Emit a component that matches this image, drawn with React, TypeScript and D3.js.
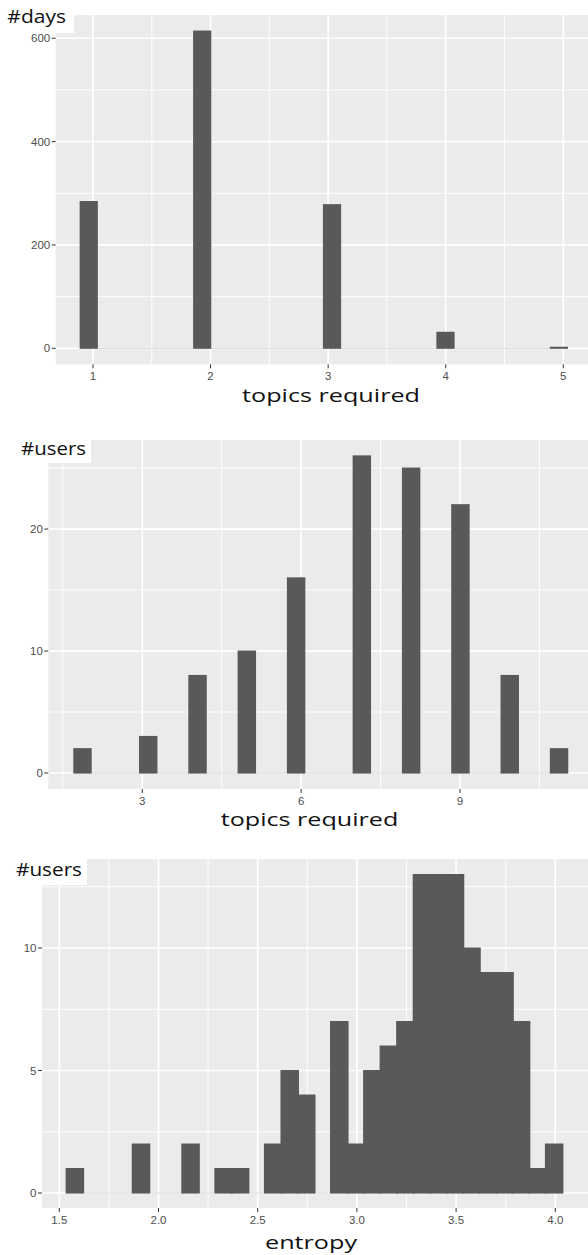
import React, { useEffect, useRef } from 'react';
import * as d3 from 'd3';

// top panel: topics required per day
const dayTopics = [1, 2, 3, 4, 5];
const dayCounts = [284, 614, 278, 31, 2];
const dayBinCenters = [0.964, 1.929, 3.033, 3.998, 4.963];
const dayBinWidth = 0.1379;
const dayXTicks = [1, 2, 3, 4, 5];
const dayYTicks = [0, 200, 400, 600];

// middle panel: topics required per user
const userTopics = [2, 3, 4, 5, 6, 7, 8, 9, 10, 11];
const userCounts = [2, 3, 8, 10, 16, 26, 25, 22, 8, 2];
const userBinCenters = [1.871, 3.112, 4.043, 4.974, 5.905, 7.146, 8.077, 9.008, 9.939, 10.87];
const userBinWidth = 0.3103;
const userXTicks = [3, 6, 9];
const userYTicks = [0, 10, 20];

// bottom panel: entropy per user (30 bins)
const entropyFirstBin = 1.5785;
const entropyBinWidth = 0.0833;
const entropyCounts = [
  1, 0, 0, 0, 2, 0, 0, 2, 0, 1,
  1, 0, 2, 5, 4, 0, 7, 2, 5, 6,
  7, 13, 13, 13, 10, 9, 9, 7, 1, 2,
];
const entropyXTicks = [1.5, 2.0, 2.5, 3.0, 3.5, 4.0];
const entropyYTicks = [0, 5, 10];

interface Bin {
  center: number;
  count: number;
}

interface PanelSpec {
  bins: Bin[];
  binWidth: number;
  xDomain: [number, number];
  yDomain: [number, number];
  xTicks: number[];
  yTicks: number[];
  xFormat: (d: number) => string;
  left: number;
  right: number;
  top: number;
  bottom: number;
  yLabel: string;
  yLabelX: number;
  yLabelY: number;
  yLabelLen: number;
  boxW: number;
  boxBottom: number;
  xTitle: string;
  xTitleX: number;
  xTitleY: number;
  xTitleLen: number;
}

const W = 588;
const H = 1255;
const BG = '#EBEBEB';
const BAR = '#595959';
const TICK_FONT = '"Liberation Sans", Arial, sans-serif';
const TITLE_FONT = '"Open Sans", "Noto Sans", sans-serif';

const minorOf = (major: number[], domain: [number, number]) => {
  const step = major[1] - major[0];
  const out: number[] = [];
  for (let v = major[0] - step / 2 - step * 3; v <= domain[1]; v += step) {
    if (v >= domain[0]) out.push(v);
  }
  return out;
};

const panels: PanelSpec[] = [
  {
    bins: dayTopics.map((_, i) => ({ center: dayBinCenters[i], count: dayCounts[i] })),
    binWidth: dayBinWidth,
    xDomain: [0.683, 5.21],
    yDomain: [-31, 645],
    xTicks: dayXTicks,
    yTicks: dayYTicks,
    xFormat: (d) => String(d),
    left: 55.7, right: W, top: 15, bottom: 364.3,
    yLabel: '#days', yLabelX: 7.3, yLabelY: 23, yLabelLen: 58.7,
    boxW: 74, boxBottom: 33,
    xTitle: 'topics required', xTitleX: 331, xTitleY: 402, xTitleLen: 178,
  },
  {
    bins: userTopics.map((_, i) => ({ center: userBinCenters[i], count: userCounts[i] })),
    binWidth: userBinWidth,
    xDomain: [1.225, 11.417],
    yDomain: [-1.31, 27.3],
    xTicks: userXTicks,
    yTicks: userYTicks,
    xFormat: (d) => String(d),
    left: 48.3, right: W, top: 440, bottom: 789,
    yLabel: '#users', yLabelX: 21, yLabelY: 455, yLabelLen: 65,
    boxW: 91, boxBottom: 463,
    xTitle: 'topics required', xTitleX: 309.5, xTitleY: 825.5, xTitleLen: 177.6,
  },
  {
    bins: entropyCounts.map((c, k) => ({ center: entropyFirstBin + k * entropyBinWidth, count: c })),
    binWidth: entropyBinWidth,
    xDomain: [1.4128, 4.1648],
    yDomain: [-0.612, 13.633],
    xTicks: entropyXTicks,
    yTicks: entropyYTicks,
    xFormat: d3.format('.1f'),
    left: 42, right: W, top: 859, bottom: 1208,
    yLabel: '#users', yLabelX: 16, yLabelY: 876, yLabelLen: 66,
    boxW: 87, boxBottom: 885,
    xTitle: 'entropy', xTitleX: 311, xTitleY: 1248.5, xTitleLen: 92,
  },
];

const App: React.FC = () => {
  const svgRef = useRef<SVGSVGElement>(null);

  useEffect(() => {
    if (!svgRef.current) return;
    const svg = d3.select(svgRef.current);
    svg.selectAll('*').remove();

    panels.forEach((p) => {
      const x = d3.scaleLinear().domain(p.xDomain).range([p.left, p.right]);
      const y = d3.scaleLinear().domain(p.yDomain).range([p.bottom, p.top]);
      const g = svg.append('g');

      // panel background
      g.append('rect')
        .attr('x', p.left)
        .attr('y', p.top)
        .attr('width', p.right - p.left)
        .attr('height', p.bottom - p.top)
        .attr('fill', BG);

      // minor grid
      minorOf(p.xTicks, p.xDomain).forEach((v) => {
        g.append('line')
          .attr('x1', x(v)).attr('x2', x(v))
          .attr('y1', p.top).attr('y2', p.bottom)
          .attr('stroke', '#fff').attr('stroke-width', 0.9);
      });
      minorOf(p.yTicks, p.yDomain).forEach((v) => {
        g.append('line')
          .attr('x1', p.left).attr('x2', p.right)
          .attr('y1', y(v)).attr('y2', y(v))
          .attr('stroke', '#fff').attr('stroke-width', 0.9);
      });

      // major grid
      p.xTicks.forEach((v) => {
        g.append('line')
          .attr('x1', x(v)).attr('x2', x(v))
          .attr('y1', p.top).attr('y2', p.bottom)
          .attr('stroke', '#fff').attr('stroke-width', 1.7);
      });
      p.yTicks.forEach((v) => {
        g.append('line')
          .attr('x1', p.left).attr('x2', p.right)
          .attr('y1', y(v)).attr('y2', y(v))
          .attr('stroke', '#fff').attr('stroke-width', 1.7);
      });

      // empty bins show as a faint line at zero
      const first = p.bins[0].center - p.binWidth / 2;
      const last = p.bins[p.bins.length - 1].center + p.binWidth / 2;
      g.append('line')
        .attr('x1', x(first)).attr('x2', x(last))
        .attr('y1', y(0)).attr('y2', y(0))
        .attr('stroke', '#d4d4d4').attr('stroke-width', 1);

      // bars
      g.selectAll('rect.bar')
        .data(p.bins.filter((b) => b.count > 0))
        .enter()
        .append('rect')
        .attr('class', 'bar')
        .attr('x', (b) => x(b.center - p.binWidth / 2) - 1)
        .attr('width', (b) => x(b.center + p.binWidth / 2) - x(b.center - p.binWidth / 2) + 2)
        .attr('y', (b) => y(b.count) - 0.5)
        .attr('height', (b) => y(0) - y(b.count) + 1)
        .attr('fill', BAR);

      // y axis ticks + labels
      p.yTicks.forEach((v) => {
        g.append('line')
          .attr('x1', p.left - 4).attr('x2', p.left)
          .attr('y1', y(v)).attr('y2', y(v))
          .attr('stroke', '#333').attr('stroke-width', 1);
        g.append('text')
          .attr('x', p.left - 5.5)
          .attr('y', y(v))
          .attr('dy', '0.35em')
          .attr('text-anchor', 'end')
          .style('font-family', TICK_FONT)
          .style('font-size', '11.5px')
          .style('fill', '#4d4d4d')
          .text(String(v));
      });

      // x axis ticks + labels
      p.xTicks.forEach((v) => {
        g.append('line')
          .attr('x1', x(v)).attr('x2', x(v))
          .attr('y1', p.bottom).attr('y2', p.bottom + 4)
          .attr('stroke', '#333').attr('stroke-width', 1);
        g.append('text')
          .attr('x', x(v))
          .attr('y', p.bottom + 16)
          .attr('text-anchor', 'middle')
          .style('font-family', TICK_FONT)
          .style('font-size', '11.5px')
          .style('fill', '#4d4d4d')
          .text(p.xFormat(v));
      });

      // y label in a white box over the panel corner
      g.append('rect')
        .attr('x', 0)
        .attr('y', p.top - 20)
        .attr('width', p.boxW)
        .attr('height', p.boxBottom - (p.top - 20))
        .attr('fill', '#fff');
      g.append('text')
        .attr('x', p.yLabelX)
        .attr('y', p.yLabelY)
        .attr('textLength', p.yLabelLen)
        .attr('lengthAdjust', 'spacingAndGlyphs')
        .style('font-family', TITLE_FONT)
        .style('font-size', '18px')
        .style('fill', '#111')
        .text(p.yLabel);

      // x title
      g.append('text')
        .attr('x', p.xTitleX - p.xTitleLen / 2)
        .attr('y', p.xTitleY)
        .attr('textLength', p.xTitleLen)
        .attr('lengthAdjust', 'spacingAndGlyphs')
        .style('font-family', TITLE_FONT)
        .style('font-size', '19px')
        .style('fill', '#111')
        .text(p.xTitle);
    });
  }, []);

  return (
    <svg
      ref={svgRef}
      width={W}
      height={H}
      style={{ position: 'absolute', left: 0, top: 0, background: '#fff' }}
    />
  );
};

export default App;
